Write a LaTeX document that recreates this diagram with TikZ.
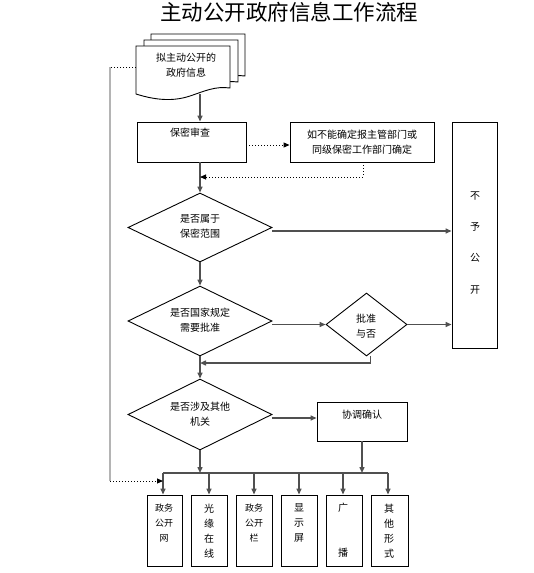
\documentclass[tikz,border=0pt]{standalone}
\usepackage{fontspec}
\setmainfont{Noto Sans CJK SC}
\usetikzlibrary{shapes.geometric,arrows.meta,calc}
\definecolor{flowgray}{HTML}{505050}
\definecolor{sidegray}{HTML}{B4B4B4}
\begin{document}
\begin{tikzpicture}[x=1pt,y=-1pt,
  box/.style={draw=black, line width=0.9pt, rectangle, inner sep=0pt},
  dia/.style={draw=black, line width=0.9pt, diamond, inner sep=0pt},
  txt/.style={font=\fontsize{10}{15}\selectfont, align=center, inner sep=0pt},
  flow/.style={draw=flowgray, line width=1.4pt, -{Triangle[length=6pt,width=5pt]}},
  plainflow/.style={draw=flowgray, line width=1.4pt},
  dotflow/.style={draw=black, dotted, line width=1pt, -{Triangle[length=6pt,width=5pt]}},
  dotline/.style={draw=black, dotted, line width=1pt},
  sideline/.style={draw=sidegray, line width=1.4pt}
]
\useasboundingbox (0,0) rectangle (533,573);

% title
\node[inner sep=0pt, font=\fontsize{21.5}{22}\selectfont] (title) at (289,12) {主动公开政府信息工作流程};

% document stack
\foreach \dx/\dy in {15/-12, 8/-6, 0/0}{
  \draw[fill=white, line width=0.9pt]
    (136+\dx,46+\dy) -- (230+\dx,46+\dy) -- (230+\dx,88+\dy)
    .. controls (215+\dx,86+\dy) and (205+\dx,91+\dy) .. (190+\dx,96+\dy)
    .. controls (175+\dx,101+\dy) and (158+\dx,101+\dy) .. (136+\dx,94+\dy) -- cycle;
}
\node[txt] (doct) at (186,65.5) {拟主动公开的\\政府信息};
\coordinate (docb) at (200,94);
\coordinate (docl) at (136,67);

% boxes
\node[box, minimum width=109pt, minimum height=40pt] (bm) at (191.5,142) {};
\node[txt] (bmt) at (190,133) {保密审查};
\node[box, minimum width=144pt, minimum height=40pt] (rq) at (362,142) {};
\node[txt] (rqt) at (362,142.5) {如不能确定报主管部门或\\同级保密工作部门确定};
\node[box, minimum width=45pt, minimum height=226pt] (bygk) at (474.5,235) {};
\node[txt] (by1) at (475,196) {不};
\node[txt] (by2) at (475,227) {予};
\node[txt] (by3) at (475,258) {公};
\node[txt] (by4) at (475,290) {开};

% diamonds
\node[dia, minimum width=144pt, minimum height=69pt] (d1) at (200,227.5) {};
\node[txt] (d1t) at (200,226.5) {是否属于\\保密范围};
\node[dia, minimum width=144pt, minimum height=70pt] (d2) at (200,321) {};
\node[txt] (d2t) at (200,320.5) {是否国家规定\\需要批准};
\node[dia, minimum width=81pt, minimum height=63pt] (d3) at (366.5,324.5) {};
\node[txt] (d3t) at (366,326.5) {批准\\与否};
\node[dia, minimum width=144pt, minimum height=71pt] (d4) at (200,414.5) {};
\node[txt] (d4t) at (200,414.5) {是否涉及其他\\机关};
\node[box, minimum width=90pt, minimum height=39pt] (xt) at (362,421.5) {};
\node[txt] (xtt) at (362,415) {协调确认};

% bottom boxes
\node[box, minimum width=35pt, minimum height=71pt] (b1) at (164.5,530.5) {};
\node[box, minimum width=36pt, minimum height=71pt] (b2) at (209,530.5) {};
\node[box, minimum width=36pt, minimum height=71pt] (b3) at (254,530.5) {};
\node[box, minimum width=36pt, minimum height=71pt] (b4) at (299,530.5) {};
\node[box, minimum width=36pt, minimum height=71pt] (b5) at (344,530.5) {};
\node[box, minimum width=37pt, minimum height=71pt] (b6) at (389.5,530.5) {};
\node[txt, font=\fontsize{9}{15}\selectfont] (b1t) at (164,523) {政务\\公开\\网};
\node[txt] (b2t) at (209,531) {光\\缘\\在\\线};
\node[txt, font=\fontsize{9}{15}\selectfont] (b3t) at (254,523) {政务\\公开\\栏};
\node[txt] (b4t) at (299,523) {显\\示\\屏};
\node[txt] (b5a) at (343,508) {广};
\node[txt] (b5b) at (343,553) {播};
\node[txt] (b6t) at (389,531) {其\\他\\形\\式};

% connector coordinates
\coordinate (m1) at (200,177);
\coordinate (m2) at (200,363);
\coordinate (bl) at (163,473);
\coordinate (br) at (388,473);
\coordinate (sidetop) at (110,67);
\coordinate (sidebot) at (110,481);
\coordinate (sideend) at (163,481);

% connectors
\draw[flow] (docb) -- (d1.north |- bm.north);
\draw[flow] (d1.north |- bm.south) -- (d1.north);
\draw[dotflow] ([yshift=-3pt]bm.east) -- ([yshift=-3pt]rq.west);
\draw[dotflow] ([xshift=1pt]rq.south) |- (m1);
\draw[flow] (272,231) -- (bygk.west |- 0,231);
\draw[flow] (d1.south) -- (d2.north);
\draw[flow] (d2.east |- d3.west) -- (d3.west);
\draw[flow] (d3.east) -- (d3.east -| bygk.west);
\draw[flow] ([xshift=4pt]d3.south) |- (m2);
\draw[flow] (d2.south) -- (d4.north);
\draw[flow] ([yshift=-3.5pt]d4.east) -- ([yshift=-3.5pt]d4.east -| xt.west);
\draw[flow] (d4.south) -- (d4.south |- bl);
\draw[flow] (xt.south) -- (xt.south |- bl);
\draw[plainflow] (bl) -- (br);
\draw[flow] (bl) -- (bl |- b1.north);
\draw[flow] (b2.north |- bl) -- (b2.north);
\draw[flow] (b3.north |- bl) -- (b3.north);
\draw[flow] (b4.north |- bl) -- (b4.north);
\draw[flow] ([xshift=-1pt]b5.north |- bl) -- ([xshift=-1pt]b5.north);
\draw[flow] (br) -- (br |- b6.north);
\draw[dotline] (docl) -- (sidetop);
\draw[sideline] (sidetop) -- (sidebot);
\draw[dotflow] (sidebot) -- (sideend);
\end{tikzpicture}
\end{document}
